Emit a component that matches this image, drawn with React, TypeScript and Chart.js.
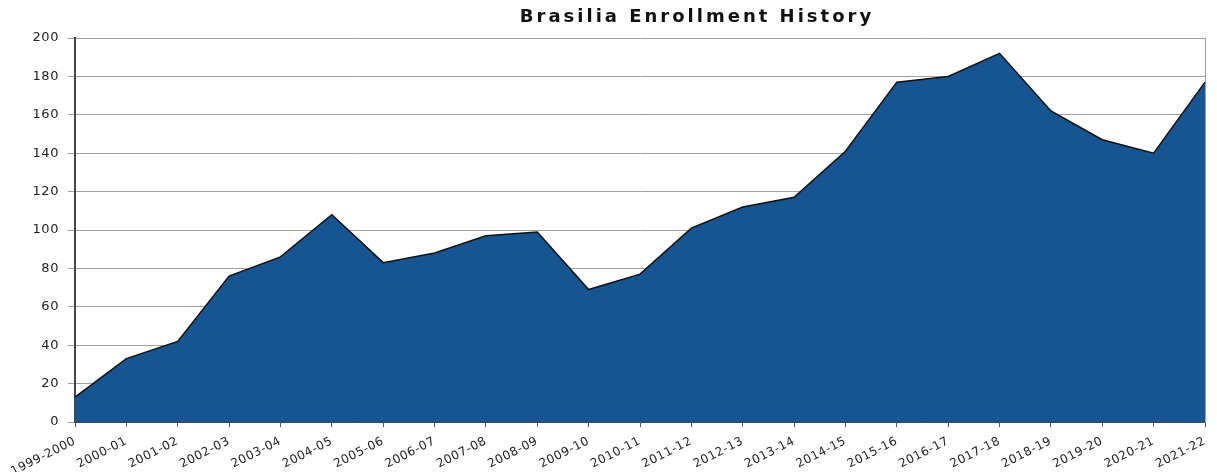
import React, { useEffect, useRef } from "react";
import { Chart, registerables } from "chart.js";

Chart.register(...registerables);

const TITLE = "Brasilia Enrollment History";

const years = [
  "1999-2000", "2000-01", "2001-02", "2002-03", "2003-04", "2004-05",
  "2005-06", "2006-07", "2007-08", "2008-09", "2009-10", "2010-11",
  "2011-12", "2012-13", "2013-14", "2014-15", "2015-16", "2016-17",
  "2017-18", "2018-19", "2019-20", "2020-21", "2021-22",
];

const enrollment = [
  13, 33, 42, 76, 86, 108, 83, 88, 97, 99, 69, 77,
  101, 112, 117, 141, 177, 180, 192, 162, 147, 140, 177,
];

const yTicks = [0, 20, 40, 60, 80, 100, 120, 140, 160, 180, 200];

const spacingPlugin = {
  id: "letterSpacing",
  beforeUpdate(chart: any) {
    (chart.ctx as any).letterSpacing = "0.6px";
  },
  beforeDraw(chart: any) {
    (chart.ctx as any).letterSpacing = "0.6px";
  },
};

const titlePlugin = {
  id: "offsetTitle",
  afterDraw(chart: any) {
    const { ctx, chartArea } = chart;
    ctx.save();
    ctx.font = "bold 18px 'DejaVu Sans'";
    (ctx as any).letterSpacing = "3px";
    ctx.fillStyle = "#111";
    ctx.textAlign = "center";
    ctx.textBaseline = "middle";
    ctx.fillText(TITLE, (chartArea.left + chartArea.right) / 2 + 57, 9);
    ctx.restore();
  },
};

export default function App() {
  const ref = useRef<HTMLCanvasElement | null>(null);

  useEffect(() => {
    if (!ref.current) return;
    const chart = new Chart(ref.current, {
      type: "line",
      data: {
        labels: years,
        datasets: [
          {
            data: enrollment,
            fill: "origin",
            backgroundColor: "#165592",
            borderColor: "#111111",
            borderWidth: 1.5,
            tension: 0,
            pointRadius: 0,
          },
        ],
      },
      options: {
        animation: false,
        responsive: true,
        maintainAspectRatio: false,
        layout: { padding: { top: 30, right: 4, left: 0, bottom: 0 } },
        plugins: {
          legend: { display: false },
          title: { display: false },
          tooltip: { enabled: false },
        },
        scales: {
          x: {
            offset: false,
            grid: {
              drawOnChartArea: false,
              drawTicks: true,
              tickLength: 5,
              color: "#555",
            },
            border: { display: true, color: "#444", width: 1 },
            ticks: {
              autoSkip: false,
              minRotation: 27,
              maxRotation: 27,
              padding: 7,
              color: "#222",
              font: { family: "'DejaVu Sans'", size: 12 },
            },
            afterFit: (s: any) => {
              s.height = 50;
              s.paddingLeft = 0;
              s.paddingRight = 0;
            },
          },
          y: {
            min: 0,
            max: 200,
            afterBuildTicks: (s: any) => {
              s.ticks = yTicks.map((v) => ({ value: v }));
            },
            grid: {
              color: "#a0a0a0",
              lineWidth: 1,
              tickLength: 7,
            },
            border: { display: true, color: "#444", width: 2 },
            ticks: {
              padding: 9,
              color: "#222",
              font: { family: "'DejaVu Sans'", size: 13 },
            },
            afterFit: (s: any) => {
              s.width = 67;
            },
          },
          y2: {
            position: "right",
            min: 0,
            max: 200,
            grid: { display: false },
            ticks: { display: false },
            border: { display: true, color: "#a0a0a0", width: 1 },
            afterFit: (s: any) => {
              s.width = 0;
            },
          },
        },
      },
      plugins: [spacingPlugin, titlePlugin],
    });
    return () => chart.destroy();
  }, []);

  return (
    <div style={{ width: 1201, height: 464 }}>
      <canvas ref={ref} />
    </div>
  );
}
